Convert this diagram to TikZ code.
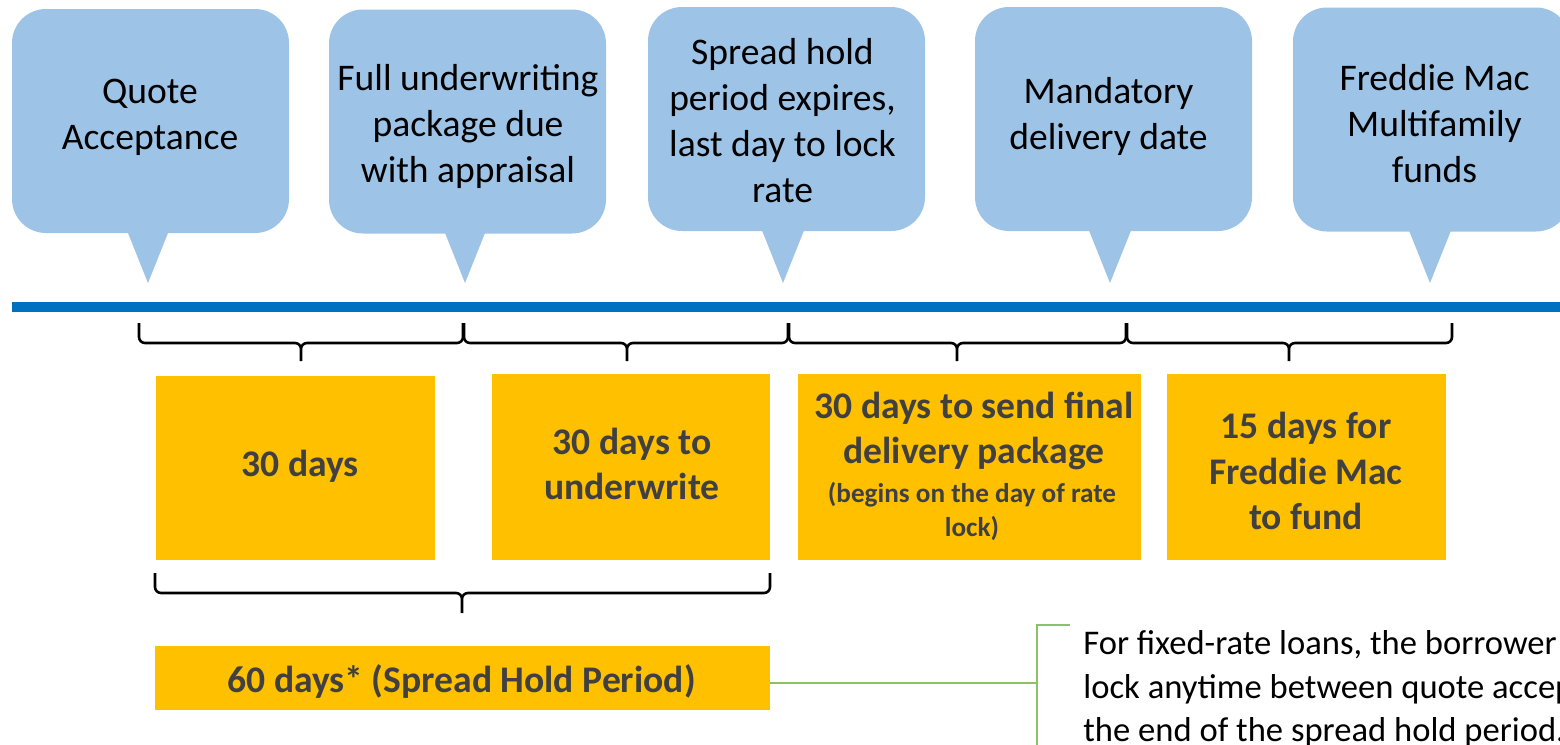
\documentclass[tikz,border=0pt]{standalone}
\usepackage{fontspec}
\setmainfont{Carlito}
\usetikzlibrary{calc}
\definecolor{callblue}{HTML}{9DC3E6}
\definecolor{lineblue}{HTML}{0070C0}
\definecolor{boxorange}{HTML}{FFC000}
\definecolor{boxtext}{HTML}{404040}
\definecolor{notegreen}{HTML}{8CC168}
% manual brace: #1 start, #2 end, #3 mid coordinate, #4 arm depth, #5 tip depth
\newcommand\mybrace[5]{%
  \draw[bracestyle] let \p1=(#1), \p2=(#2), \p3=(#3) in
    (\p1) -- (\x1,\y1-#4+3pt) to[out=-90,in=180] (\x1+3pt,\y1-#4)
      -- (\x3-3pt,\y1-#4) to[out=0,in=90] (\x3,\y1-#4-3pt) -- (\x3,\y1-#5)
    (\p2) -- (\x2,\y1-#4+3pt) to[out=-90,in=0] (\x2-3pt,\y1-#4)
      -- (\x3+3pt,\y1-#4) to[out=180,in=90] (\x3,\y1-#4-3pt);}
\begin{document}
\begin{tikzpicture}[x=0.5pt,y=-0.5pt,
  bubble/.style={fill=callblue, rounded corners=17pt, inner sep=0pt,
    minimum width=138.5pt, minimum height=112pt},
  bubtext/.style={align=center, inner sep=0pt,
    font=\fontsize{18.8}{23}\selectfont, text=black},
  tail/.style={fill=callblue},
  period/.style={fill=boxorange, inner sep=0pt, minimum height=93pt},
  ptext/.style={align=center, inner sep=0pt,
    font=\fontsize{18.8}{22.7}\selectfont\bfseries, text=boxtext},
  psmall/.style={align=center, inner sep=0pt,
    font=\fontsize{13.6}{17}\selectfont\bfseries, text=boxtext},
  bracestyle/.style={draw=black, line width=1.3pt, line join=round},
  note/.style={notegreen, line width=0.8pt}
]
\useasboundingbox (0,0) rectangle (1560,745);

% callouts
\node[bubble] (b1) at (150.5,121) {};
\node[bubble] (b2) at (467.5,121.5) {};
\node[bubble] (b3) at (786.5,119) {};
\node[bubble] (b4) at (1113.5,119) {};
\node[bubble] (b5) at (1431.5,119.5) {};

\coordinate (t1) at (148,283);
\coordinate (t2) at (465,283);
\coordinate (t3) at (783,283);
\coordinate (t4) at (1110,283);
\coordinate (t5) at (1430,283);
\foreach \i in {1,...,5}{
  \fill[tail] ($(t\i)+(-24,-60)$) -- (t\i) -- ($(t\i)+(24,-60)$) -- cycle;
}

\node[bubtext] (b1t) at (150,117) {Quote\\Acceptance};
\node[bubtext] (b2t) at (468,126.5) {Full underwriting\\package due\\with appraisal};
\node[bubtext] (b3t) at (782.5,121) {Spread hold\\period expires,\\last day to lock\\rate};
\node[bubtext] (b4t) at (1108.5,116) {Mandatory\\delivery date};
\node[bubtext] (b5t) at (1434.5,123.5) {Freddie Mac\\Multifamily\\funds};

% timeline
\coordinate (ls) at (12,306.5);
\coordinate (le) at (1560,306.5);
\draw[lineblue, line width=5pt] (ls) -- (le);

% braces
\coordinate (p1) at (139,323);
\coordinate (p2) at (463,323);
\coordinate (m1) at (301,323);
\coordinate (p3) at (464,323);
\coordinate (p4) at (788,323);
\coordinate (m2) at (627,323);
\coordinate (p5) at (789,323);
\coordinate (p6) at (1126,323);
\coordinate (m3) at (957,323);
\coordinate (p7) at (1127,323);
\coordinate (p8) at (1452,323);
\coordinate (m4) at (1289,323);
\mybrace{p1}{p2}{m1}{10pt}{19pt}
\mybrace{p3}{p4}{m2}{10pt}{19pt}
\mybrace{p5}{p6}{m3}{10pt}{19pt}
\mybrace{p7}{p8}{m4}{10pt}{19pt}

% period boxes
\node[period, minimum width=139.5pt, minimum height=92pt] (o1) at (295.5,468) {};
\node[period, minimum width=139pt] (o2) at (631,467) {};
\node[period, minimum width=171.5pt] (o3) at (969.5,467) {};
\node[period, minimum width=139.5pt] (o4) at (1306.5,467) {};

\node[ptext] (o1t) at (300,466) {30 days};
\node[ptext] (o2t) at (632,464) {30 days to\\underwrite};
\node[ptext] (o3t) at (974,431) {30 days to send final\\delivery package};
\node[psmall] (o3s) at (972,511) {(begins on the day of rate\\lock)};
\node[ptext] (o4t) at (1306,471) {15 days for\\Freddie Mac\\to fund};

% bottom brace
\coordinate (q1) at (155,573);
\coordinate (q2) at (770,573);
\coordinate (qm) at (462,573);
\mybrace{q1}{q2}{qm}{10pt}{20pt}

\node[period, minimum width=307.5pt, minimum height=32pt] (o5) at (462.5,678) {};
\node[ptext] (o5t) at (461.5,681) {60 days* (Spread Hold Period)};

% note connector
\coordinate (gj) at (1037,683);
\coordinate (gt) at (1070,625);
\coordinate (gtc) at (1037,625);
\coordinate (gb) at (1037,750);
\draw[note] (o5.east |- gj) -- (gj);
\draw[note] (gt) -- (gtc) -- (gb);

\node[anchor=west, align=left, inner sep=0pt, font=\fontsize{17.3}{21.8}\selectfont, text=black]
  (nt) at (1083,689)
  {For fixed-rate loans, the borrower\\lock anytime between quote accep\\the end of the spread hold period.};
\end{tikzpicture}
\end{document}
